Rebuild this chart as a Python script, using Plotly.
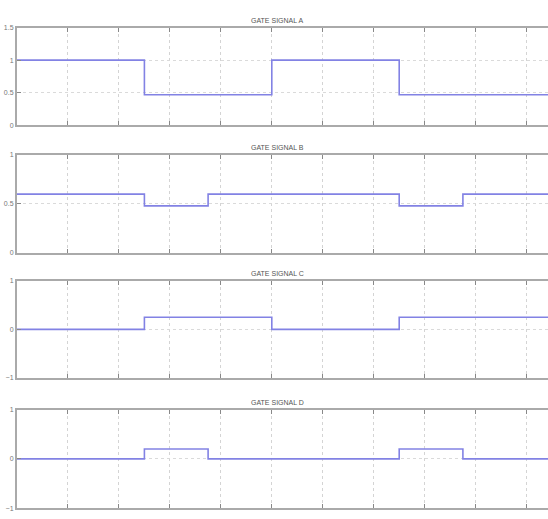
import plotly.graph_objects as go

# ---- data ----
time = [0, 2.5, 3.75, 5, 7.5, 8.75, 10.5]
gate_a = [1, 0.47, 0.47, 1, 0.47, 0.47, 0.47]
gate_b = [0.6, 0.48, 0.6, 0.6, 0.48, 0.6, 0.6]
gate_c = [0, 0.25, 0.25, 0, 0.25, 0.25, 0.25]
gate_d = [0, 0.2, 0, 0, 0.2, 0, 0]
titles = ["GATE SIGNAL A", "GATE SIGNAL B", "GATE SIGNAL C", "GATE SIGNAL D"]
y_ranges = [[0, 1.5], [0, 1], [-1, 1], [-1, 1]]
y_ticks = [[0, 0.5, 1, 1.5], [0, 0.5, 1], [-1, 0, 1], [-1, 0, 1]]
x_ticks = list(range(0, 11))

signals = [gate_a, gate_b, gate_c, gate_d]
domains = [[0.763, 0.954], [0.514, 0.705], [0.270, 0.459], [0.015, 0.208]]

fig = go.Figure()
layout = dict(
    width=548, height=519,
    margin=dict(l=17, r=0, t=0, b=0),
    paper_bgcolor="white", plot_bgcolor="white",
    showlegend=False,
)
annotations = []
for i, (sig, dom) in enumerate(zip(signals, domains)):
    n = "" if i == 0 else str(i + 1)
    fig.add_trace(go.Scatter(
        x=time, y=sig, mode="lines", line_shape="hv",
        line=dict(color="#8282e4", width=1.6),
        xaxis="x" + n, yaxis="y" + n,
    ))
    layout["xaxis" + n] = dict(
        domain=[0, 1], anchor="y" + n, range=[0, 10.42],
        tickvals=x_ticks, showticklabels=False,
        ticks="inside", ticklen=4, tickcolor="#888",
        showline=True, linecolor="#aaa", linewidth=2, mirror="ticks",
        showgrid=True, gridcolor="#d4d4d4", griddash="dot", gridwidth=1,
        zeroline=False,
    )
    layout["yaxis" + n] = dict(
        domain=dom, anchor="x" + n, range=y_ranges[i],
        tickvals=y_ticks[i], ticks="inside", ticklen=4, tickcolor="#888",
        tickfont=dict(size=7, color="#777", family="Liberation Sans"),
        showline=True, linecolor="#aaa", linewidth=2, mirror=False,
        showgrid=True, gridcolor="#dadada", griddash="dot", gridwidth=1,
        zeroline=False,
    )
    annotations.append(dict(
        text=titles[i], xref="paper", yref="paper",
        x=0.49, y=dom[1], yanchor="bottom", xanchor="center", yshift=2,
        showarrow=False,
        font=dict(size=7, color="#555", family="Liberation Sans"),
    ))
layout["annotations"] = annotations
fig.update_layout(**layout)
fig.write_html("out.html")
